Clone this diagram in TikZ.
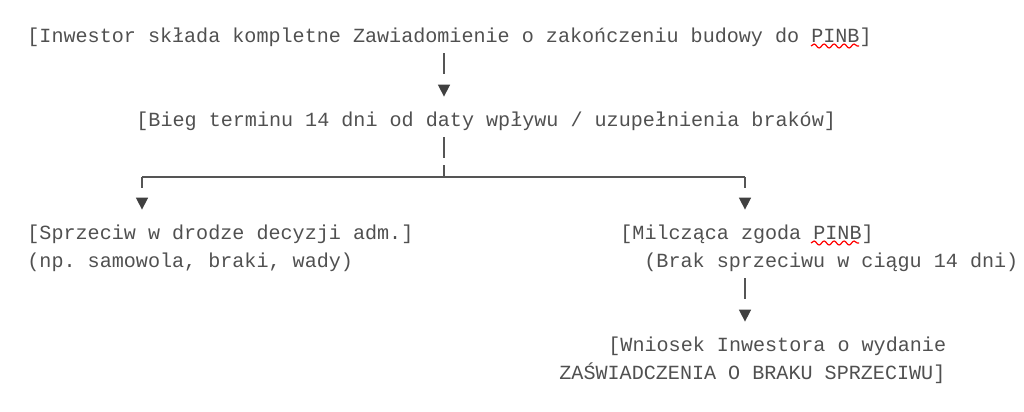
\documentclass[tikz,border=0pt]{standalone}
\usepackage{fontspec}
\setmonofont{Liberation Mono}
\usetikzlibrary{arrows.meta,decorations.pathmorphing}
\definecolor{txtgray}{HTML}{505050}
\definecolor{linegray}{HTML}{555555}
\definecolor{tipgray}{HTML}{404040}
\tikzset{
  txt/.style={anchor=base west, inner sep=0pt, text height=7pt, text depth=2pt,
    text=txtgray, font=\ttfamily\fontsize{10.05pt}{14pt}\selectfont},
  bar/.style={draw=linegray, line width=.8pt},
  flow/.style={bar, shorten <=3.5pt, shorten >=7.5pt, dash pattern=on 10.5pt off 5.5pt,
    -{Triangle[width=6pt,length=6pt,color=tipgray]}},
  stem/.style={bar, shorten <=3.5pt, dash pattern=on 10.5pt off 3.5pt on 6pt off 20pt},
  drop/.style={bar, shorten >=7.5pt, dash pattern=on 5.5pt off 5pt,
    -{Triangle[width=6pt,length=6pt,color=tipgray]}},
  squiggle/.style={draw=red, line width=.6pt, decorate,
    decoration={snake, segment length=5pt, amplitude=1pt}}
}
\begin{document}
\begin{tikzpicture}[x=0.5pt, y=-0.5pt]
        \useasboundingbox (0, 0) rectangle (1024, 412);
        %%Z1
        \node[txt] (zgl) at(27, 42){[Inwestor składa kompletne Zawiadomienie o zakończeniu budowy do PINB]};
            \draw[squiggle](811, 46) to (859, 46);
        \coordinate (c34) at(444, 0);
        %%T2
        \node[txt] (bieg) at(136, 126){[Bieg terminu 14 dni od daty wpływu / uzupełnienia braków]};
            \draw[flow](zgl.south -| c34) to (bieg.north -| c34);

        %%R3
        \coordinate (jun) at(444, 177);
        \coordinate (lcor) at(142, 177);
        \coordinate (rcor) at(745, 177);
            \draw[stem](bieg.south -| c34) to (jun);
            \draw[bar](lcor) to (rcor);

        %%S4
        \node[txt] (sprz) at(27, 239){[Sprzeciw w drodze decyzji adm.]};
        \node[txt] (np) at(27, 267){(np. samowola, braki, wady)};
            \draw[drop](lcor) to (sprz.north -| lcor);

        %%M5
        \node[txt] (milcz) at(620, 239){[Milcząca zgoda PINB]};
            \draw[squiggle](811, 243) to (859, 243);
        \node[txt] (brak) at(644, 267){(Brak sprzeciwu w ciągu 14 dni)};
            \draw[drop](rcor) to (milcz.north -| rcor);

        %%W6
        \node[txt] (wnio) at(608, 351){[Wniosek Inwestora o wydanie};
        \node[txt] (zasw) at(559, 379){ZAŚWIADCZENIA O BRAKU SPRZECIWU]};
            \draw[flow](brak.south -| rcor) to (wnio.north -| rcor);
\end{tikzpicture}
\end{document}
